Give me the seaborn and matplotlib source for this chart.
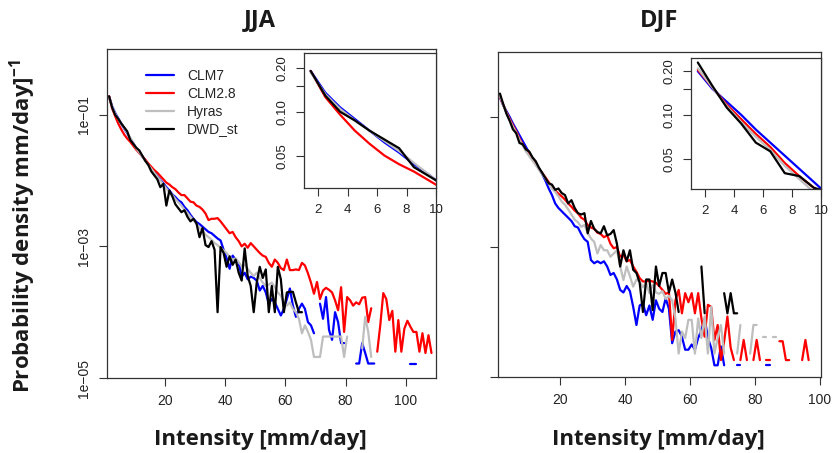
import numpy as np
import pandas as pd
import matplotlib
matplotlib.use("Agg")
import matplotlib.pyplot as plt
import seaborn as sns
from matplotlib.lines import Line2D

sns.set_style("ticks")
plt.rcParams["font.family"] = ["Liberation Sans", "DejaVu Sans"]
plt.rcParams["mathtext.fontset"] = "custom"
plt.rcParams["mathtext.rm"] = "Open Sans:bold"
plt.rcParams["mathtext.bf"] = "Open Sans:bold"

series_names = ["CLM7", "CLM2.8", "Hyras", "DWD_st"]
series_colors = ["#0000FF", "#FF0000", "#BEBEBE", "#000000"]
NA = None

# log10 of probability density, bins centred at 1.5, 2.5, ... mm/day (None = empty bin)
jja_clm7_log10 = [
    -0.72, -0.87, -0.97, -1.05, -1.13, -1.21, -1.28, -1.36, -1.43, -1.51,
    -1.57, -1.63, -1.69, -1.75, -1.81, -1.87, -1.93, -1.99, -2.04, -2.10,
    -2.15, -2.21, -2.25, -2.30, -2.33, -2.40, -2.45, -2.52, -2.58, -2.63,
    -2.66, -2.70, -2.74, -2.78, -2.80, -2.84, -2.88, -2.91, -3.05, -3.18,
    -3.34, -3.14, -3.20, -3.25, -3.46, -3.40, -3.50, -3.46, -3.48, -3.52,
    -3.67, -3.60, -3.70, -3.87, -3.80, -3.85, -3.95, -4.05, -3.95, -3.80,
    -3.64, -3.90, -4.07, -3.95, -3.87, -3.95, -4.15, -4.20, -4.32, NA,
    -3.87, -4.10, -3.77, -4.27, -4.42, -4.00, -4.15, -4.47, -4.47, NA,
    NA, NA, -4.78, -4.78, -4.47, -4.62, -4.78, -4.78, -4.78, NA,
    NA, NA, NA, NA, NA, NA, NA, NA, NA, NA,
    -4.78, -4.78, -4.78]
jja_clm28_log10 = [
    -0.72, -0.90, -1.02, -1.13, -1.22, -1.30, -1.36, -1.41, -1.47, -1.53,
    -1.58, -1.63, -1.68, -1.74, -1.79, -1.84, -1.88, -1.93, -1.98, -2.03,
    -2.06, -2.10, -2.13, -2.18, -2.22, -2.22, -2.27, -2.32, -2.33, -2.38,
    -2.40, -2.44, -2.50, -2.60, -2.58, -2.58, -2.57, -2.62, -2.68, -2.74,
    -2.80, -2.78, -2.86, -2.92, -3.00, -2.96, -3.02, -2.95, -3.00, -3.05,
    -3.10, -3.14, -3.16, -3.25, -3.31, -3.20, -3.25, -3.33, -3.36, -3.20,
    -3.36, -3.36, -3.35, -3.36, -3.25, -3.29, -3.41, -3.55, -3.72, -3.54,
    -3.80, -3.67, -3.63, -3.66, -3.70, -3.82, -3.97, -3.62, -4.30, -3.77,
    -3.82, -3.90, -3.85, -3.88, -3.78, -3.77, -4.15, -3.94, NA, -4.60,
    -4.20, -3.71, -3.80, -4.12, -3.98, -4.60, -4.12, -4.60, -4.25, -4.13,
    -4.22, -4.30, -4.30, -4.60, -4.32, -4.62, -4.35, -4.62]
jja_hyras_log10 = [
    -0.73, -0.88, -0.98, -1.06, -1.13, -1.20, -1.27, -1.35, -1.43, -1.51,
    -1.57, -1.63, -1.70, -1.76, -1.82, -1.88, -1.94, -2.00, -2.06, -2.12,
    -2.18, -2.22, -2.28, -2.33, -2.38, -2.44, -2.49, -2.55, -2.60, -2.66,
    -2.72, -2.76, -2.82, -2.86, -2.90, -2.95, -2.98, -3.02, -3.06, -3.10,
    -3.16, -3.20, -3.18, -3.24, -3.30, -3.28, -3.34, -3.40, -3.45, -3.40,
    -3.48, -3.55, -3.60, -3.58, -3.55, -3.62, -3.70, -3.75, -3.85, -3.90,
    -3.85, -3.95, -4.00, -4.10, -4.32, -4.20, -4.30, -4.42, -4.68, -4.68,
    -4.68, -4.37, -4.37, -4.37, -4.37, -4.37, -4.37, -4.37, -4.68, -4.37,
    NA, NA, NA, NA, -4.55, -4.07, -4.30, -4.68]
jja_dwd_log10 = [
    -0.72, -0.89, -1.00, -1.06, -1.13, -1.19, -1.25, -1.38, -1.44, -1.50,
    -1.54, -1.62, -1.70, -1.76, -1.86, -1.92, -1.98, -2.10, -2.05, -2.38,
    -2.15, -2.24, -2.36, -2.42, -2.48, -2.45, -2.55, -2.62, -2.58, -2.65,
    -2.86, -2.72, -2.98, -3.01, -2.92, -3.05, -4.00, -3.01, -3.10, -3.31,
    -3.15, -3.28, -3.20, -3.40, -3.52, -3.03, -3.45, -3.60, -4.00, -3.55,
    -3.31, -3.48, -3.35, -4.00, -3.60, -4.00, -3.31, -3.50, -4.00, -3.70,
    -3.69, -3.69, -3.85, -4.00, -4.00]

djf_clm7_log10 = [
    -0.70, -0.82, -0.91, -1.00, -1.10, -1.19, -1.28, -1.37, -1.46, -1.55,
    -1.63, -1.71, -1.79, -1.88, -1.98, -2.10, -2.20, -2.33, -2.40, -2.45,
    -2.50, -2.55, -2.60, -2.68, -2.70, -2.80, -2.88, -2.92, -3.20, -3.25,
    -3.22, -3.25, -3.22, -3.30, -3.43, -3.40, -3.50, -3.66, -3.70, -3.60,
    -3.68, -3.92, -4.20, -3.90, -3.87, -4.05, -3.90, -4.12, -3.82, -3.95,
    -4.00, -3.79, -3.95, -4.48, -4.30, -4.28, -4.38, -4.58, -4.58, -4.50,
    -4.58, -4.40, -4.28, -4.10, -4.40, -4.55, -4.82, -4.82, -4.53, -4.82,
    NA, NA, NA, -4.82, -4.82, NA, NA, NA, NA, NA,
    NA, NA, -4.82, -4.82]
djf_clm28_log10 = [
    -0.69, -0.81, -0.93, -1.03, -1.13, -1.22, -1.33, -1.42, -1.50, -1.57,
    -1.64, -1.72, -1.80, -1.86, -1.93, -2.00, -2.08, -2.13, -2.18, -2.22,
    -2.27, -2.33, -2.38, -2.44, -2.48, -2.55, -2.58, -2.66, -2.70, -2.72,
    -2.78, -2.80, -2.85, -2.82, -2.95, -3.02, -3.00, -3.15, -3.12, -3.22,
    -3.20, -3.30, -3.38, -3.48, -3.53, -3.53, -3.52, -3.53, -3.55, -3.60,
    -3.66, -3.72, -3.70, -4.43, -3.82, -3.66, -4.02, -3.71, -3.85, -3.71,
    -4.02, -3.71, -4.10, -4.38, -3.89, -3.92, -4.43, -4.20, -4.74, -4.45,
    -4.07, -4.55, -4.74, NA, -4.74, -4.43, -4.74, NA, -4.74, -4.43,
    -4.74, NA, -4.74, -4.74, NA, NA, -4.45, -4.45, -4.74, -4.74,
    NA, NA, NA, -4.74, -4.43, -4.74]
djf_hyras_log10 = [
    -0.68, -0.81, -0.94, -1.05, -1.15, -1.24, -1.35, -1.44, -1.53, -1.60,
    -1.67, -1.74, -1.81, -1.88, -1.95, -2.02, -2.10, -2.15, -2.22, -2.30,
    -2.35, -2.42, -2.50, -2.58, -2.62, -2.69, -2.66, -2.78, -2.87, -2.92,
    -3.10, -2.97, -3.05, -3.05, -3.15, -3.10, -3.05, -3.30, -3.51, -3.30,
    -3.45, -3.61, -3.50, -3.53, -3.62, -3.55, -3.71, -3.58, -3.70, -3.72,
    -3.68, -3.80, -3.75, -3.82, -4.10, -4.64, -4.30, -4.40, -4.12, -4.12,
    -4.64, -4.10, -4.40, -4.07, -4.64, -3.92, -4.64, -4.40, -4.20, -4.64,
    NA, NA, NA, -4.64, -4.20, NA, NA, -4.64, -4.20, -4.20,
    NA, -4.38, -4.38, NA, -4.38, -4.38]
djf_dwd_log10 = [
    -0.64, -0.80, -0.95, -1.06, -1.19, -1.25, -1.40, -1.42, -1.50, -1.53,
    -1.62, -1.68, -1.78, -1.86, -1.94, -2.02, -2.04, -2.12, -2.10, -2.17,
    -2.20, -2.33, -2.28, -2.40, -2.48, -2.50, -2.48, -2.79, -2.60, -2.72,
    -2.77, -2.79, -2.68, -2.82, -2.80, -2.74, -2.95, -3.30, -3.05, -3.22,
    -3.05, -3.35, -3.40, -3.55, -4.00, -3.50, -3.50, -3.97, -3.30, -3.60,
    -3.40, -3.40, -3.70, -3.50, -3.70, -4.00, NA, NA, NA, NA,
    NA, NA, -3.30, -4.02, NA, NA, NA, NA, NA, -3.71,
    -4.02, -3.71, -4.02, -4.02]

jja_series = [jja_clm7_log10, jja_clm28_log10, jja_hyras_log10, jja_dwd_log10]
djf_series = [djf_clm7_log10, djf_clm28_log10, djf_hyras_log10, djf_dwd_log10]


def to_frame(lists):
    rows = []
    for name, vals in zip(series_names, lists):
        seg = 0
        gap = True
        for i, v in enumerate(vals):
            if v is None:
                gap = True
                continue
            if gap:
                seg += 1
                gap = False
            rows.append((name, seg, 1.5 + i, 10.0 ** v))
    return pd.DataFrame(rows, columns=["series", "segment", "intensity", "density"])


df_jja = to_frame(jja_series)
df_djf = to_frame(djf_series)
palette = dict(zip(series_names, series_colors))

W, H = 837, 453
fig = plt.figure(figsize=(W / 100, H / 100), dpi=100)


def px_axes(x0, y0, x1, y1):
    return fig.add_axes([x0 / W, 1 - y1 / H, (x1 - x0) / W, (y1 - y0) / H])


axL = px_axes(107, 49, 436, 378)
axR = px_axes(498, 52, 821, 377)
insL = px_axes(304, 53, 436, 188)
insR = px_axes(691, 58, 821, 189)

frame_col = "#333333"


def draw(ax, df):
    sns.lineplot(data=df, x="intensity", y="density", hue="series", units="segment",
                 estimator=None, palette=palette, hue_order=series_names,
                 linewidth=1.6, legend=False, ax=ax, sort=True)
    ax.set_yscale("log")
    ax.set_xlabel("")
    ax.set_ylabel("")
    for s in ax.spines.values():
        s.set_visible(True)
        s.set_color(frame_col)
        s.set_linewidth(0.9)
    ax.minorticks_off()
    ax.tick_params(axis="both", which="major", direction="out", length=5.5,
                   width=0.8, color=frame_col, labelsize=10, pad=6,
                   labelcolor="#222222")
    ax.set_facecolor("white")


for ax, df, xl in [(axL, df_jja, (0.8, 110)), (axR, df_djf, (0.9, 100.3))]:
    draw(ax, df)
    ax.set_xlim(*xl)
    ax.set_ylim(1e-5, 1.0)
    ax.set_xticks([20, 40, 60, 80, 100])
    ax.set_xticklabels(["20", "40", "60", "80", "100"])
    ax.set_yticks([1e-1, 1e-3, 1e-5])

axL.set_yticklabels(["1e\u221201", "1e\u221203", "1e\u221205"], rotation=90, va="center")
axR.set_yticklabels(["", "", ""])

for ins, df, xl, yl in [(insL, df_jja, (1.05, 10), (0.0300, 0.253)),
                        (insR, df_djf, (1.03, 10), (0.0310, 0.246))]:
    draw(ins, df)
    ins.set_zorder(5)
    ins.set_xlim(*xl)
    ins.set_ylim(*yl)
    ins.set_xticks([2, 4, 6, 8, 10])
    ins.set_xticklabels(["2", "4", "6", "8", "10"])
    ins.set_yticks([0.05, 0.10, 0.15, 0.20])
    ins.set_yticklabels(["0.05", "0.10", "", "0.20"], rotation=90, va="center")
    ins.minorticks_off()
    ins.tick_params(labelsize=9.5)

handles = [Line2D([0], [0], color=c, lw=1.6) for c in series_colors]
axL.legend(handles, series_names, loc="upper left", bbox_to_anchor=(0.12, 0.94),
           frameon=False, fontsize=10, handlelength=1.95, handletextpad=0.95,
           labelspacing=0.28, borderaxespad=0, borderpad=0)

bold = dict(family=["Open Sans", "DejaVu Sans"], fontweight="bold", color="#1a1a1a")
fig.text(260 / W, 1 - 20 / H, "JJA", ha="center", va="center", fontsize=17, **bold)
fig.text(659 / W, 1 - 20 / H, "DJF", ha="center", va="center", fontsize=17, **bold)
fig.text(260 / W, 1 - 440 / H, "Intensity [mm/day]", ha="center", va="center", fontsize=16, **bold)
fig.text(658 / W, 1 - 440 / H, "Intensity [mm/day]", ha="center", va="center", fontsize=16, **bold)
fig.text(23 / W, 1 - 226 / H, r"Probability density mm/day]$^{-1}$", rotation=90,
         ha="center", va="center", fontsize=16, **bold)

fig.savefig("out.png", dpi=100)
